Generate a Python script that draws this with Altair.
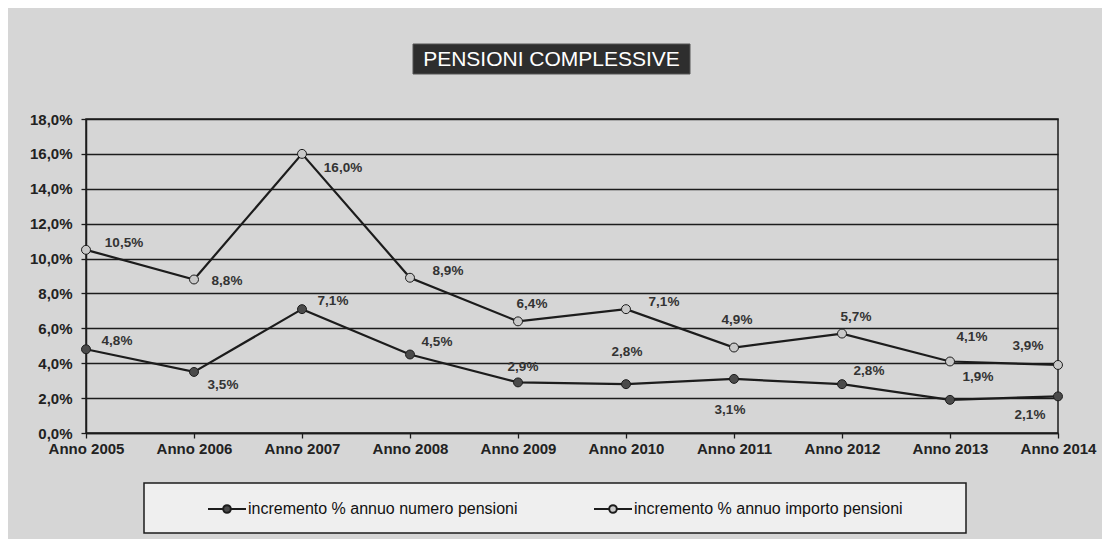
import json
import altair as alt
import pandas as pd

# ---------------- data ----------------
years = ["Anno 2005", "Anno 2006", "Anno 2007", "Anno 2008", "Anno 2009",
         "Anno 2010", "Anno 2011", "Anno 2012", "Anno 2013", "Anno 2014"]
numero = [4.8, 3.5, 7.1, 4.5, 2.9, 2.8, 3.1, 2.8, 1.9, 2.1]
importo = [10.5, 8.8, 16.0, 8.9, 6.4, 7.1, 4.9, 5.7, 4.1, 3.9]
series_names = ["incremento % annuo numero pensioni",
                "incremento % annuo importo pensioni"]
y_ticks = [0, 2, 4, 6, 8, 10, 12, 14, 16, 18]
title_text = "PENSIONI COMPLESSIVE"

rows = []
for name, vals in zip(series_names, [numero, importo]):
    for yr, v in zip(years, vals):
        rows.append({"anno": yr, "serie": name, "valore": v})
df = pd.DataFrame(rows)

# ---------------- style ----------------
FONT = "Liberation Sans"
DARK = "#1c1c1c"
W, H = 972, 314
pct_expr = "replace(format({v}, '.1f'), '.', ',') + '%'"

x_enc = alt.X(
    "anno:O", sort=years,
    scale=alt.Scale(type="point", padding=0),
    axis=alt.Axis(title=None, labelAngle=0, labelFont=FONT, labelFontSize=15,
                  labelFontWeight="bold", labelColor="#222", tickSize=5,
                  tickColor=DARK, tickWidth=1.3, labelPadding=3,
                  domainColor=DARK, domainWidth=1.5, grid=False),
)
y_enc = alt.Y(
    "valore:Q",
    scale=alt.Scale(domain=[0, 18], nice=False),
    axis=alt.Axis(title=None, values=y_ticks,
                  labelExpr=pct_expr.format(v="datum.value"),
                  labelFont=FONT, labelFontSize=15, labelFontWeight="bold",
                  labelColor="#222", tickSize=5, tickColor=DARK, tickWidth=1.3,
                  labelPadding=9, domainColor=DARK, domainWidth=1.5,
                  grid=True, gridColor=DARK, gridWidth=1.3, gridOpacity=1),
)

base = alt.Chart(df)

line = base.mark_line(color=DARK, strokeWidth=2.2).encode(
    x=x_enc, y=y_enc, detail="serie:N")

legend_symbol = "M-1,0H-0.2A0.2,0.2,0,1,1,0.2,0A0.2,0.2,0,1,1,-0.2,0M0.2,0H1"
points = base.mark_point(filled=True, size=80, stroke=DARK, strokeWidth=1,
                         opacity=1).encode(
    x=x_enc, y=y_enc,
    fill=alt.Fill("serie:N",
                  scale=alt.Scale(domain=series_names,
                                  range=["#4a4a4a", "#c9c9c9"]),
                  legend=alt.Legend(title=None, orient="none", legendX=121,
                                    legendY=370, direction="horizontal",
                                    columns=2, symbolType=legend_symbol,
                                    symbolSize=1444, symbolStrokeColor=DARK,
                                    symbolStrokeWidth=2, labelFont=FONT,
                                    labelFontSize=16, labelColor="#111",
                                    labelLimit=400, labelOffset=1,
                                    columnPadding=72, padding=0)),
)

# data labels, grouped by placement around their point
placements = [
    (series_names[1], ["Anno 2005", "Anno 2008", "Anno 2010"], 38, -7),
    (series_names[1], ["Anno 2006"], 33, 2),
    (series_names[1], ["Anno 2007"], 41, 14),
    (series_names[1], ["Anno 2009", "Anno 2012"], 14, -17),
    (series_names[1], ["Anno 2011"], 3, -28),
    (series_names[1], ["Anno 2013"], 22, -24),
    (series_names[1], ["Anno 2014"], -30, -19),
    (series_names[0], ["Anno 2005", "Anno 2007"], 31, -8),
    (series_names[0], ["Anno 2008", "Anno 2012"], 27, -13),
    (series_names[0], ["Anno 2006"], 29, 13),
    (series_names[0], ["Anno 2009"], 5, -15),
    (series_names[0], ["Anno 2010"], 1, -32),
    (series_names[0], ["Anno 2011"], -4, 31),
    (series_names[0], ["Anno 2013"], 28, -23),
    (series_names[0], ["Anno 2014"], -28, 19),
]
labels = []
for name, yrs, dx, dy in placements:
    flt = f"datum.serie === {json.dumps(name)} && indexof({json.dumps(yrs)}, datum.anno) >= 0"
    labels.append(
        base.transform_filter(flt)
        .transform_calculate(lab=pct_expr.format(v="datum.valore"))
        .mark_text(font=FONT, fontSize=13.5, fontWeight="bold", color="#333",
                   dx=dx, dy=dy, align="center", baseline="middle")
        .encode(x=x_enc, y=y_enc, text="lab:N")
    )

one = alt.Data(values=[{"k": 1}])

# title box
title_rect = alt.Chart(one).mark_rect(fill="#2e2e2e", stroke="#555",
                                      strokeWidth=1).encode(
    x=alt.value(327), x2=alt.value(604), y=alt.value(-75), y2=alt.value(-45))
title_txt = alt.Chart(one).mark_text(
    text=title_text, font=FONT, fontSize=21, color="white",
    align="center", baseline="middle").encode(
    x=alt.value(465.5), y=alt.value(-59))

# legend frame
legend_box = alt.Chart(one).mark_rect(fill="#efefef", stroke=DARK,
                                      strokeWidth=1.5).encode(
    x=alt.value(58), x2=alt.value(880), y=alt.value(364), y2=alt.value(414))

chart = alt.layer(
    legend_box, title_rect, title_txt, line, points, *labels
).properties(
    width=W, height=H,
    padding={"left": 78, "top": 111, "right": 44, "bottom": 106},
    autosize=alt.AutoSizeParams(type="none"),
    background="#d6d6d6",
).configure_view(stroke=DARK, strokeWidth=1.5)

chart.save("out.html", embed_options={"renderer": "svg", "actions": False})
